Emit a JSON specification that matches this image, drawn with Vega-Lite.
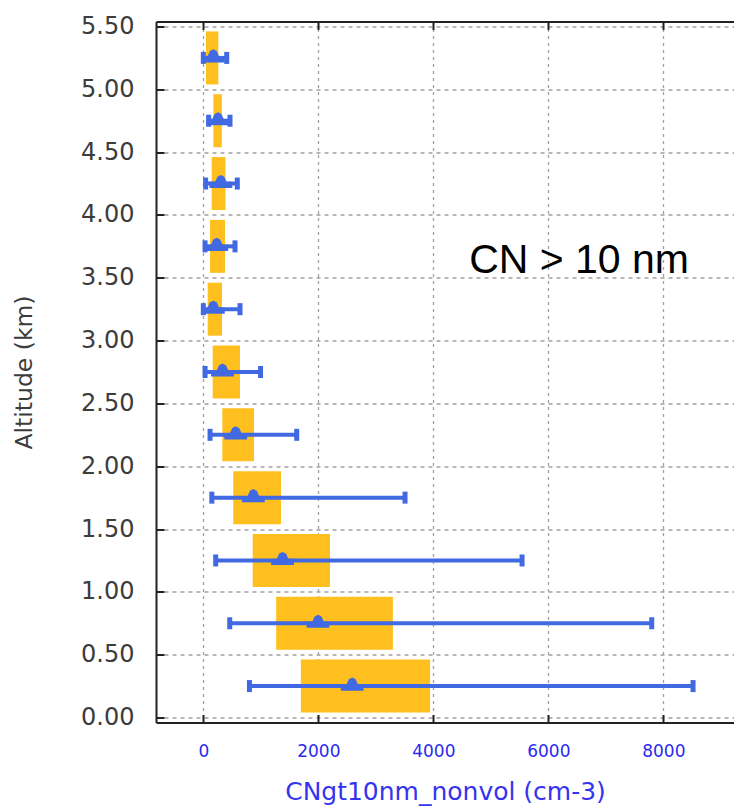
{
  "$schema": "https://vega.github.io/schema/vega-lite/v6.json",
  "width": 578,
  "height": 701,
  "autosize": {"type": "none"},
  "padding": {"left": 156, "top": 21.5, "right": 0, "bottom": 84.3},
  "background": "white",
  "config": {
    "view": {"stroke": null},
    "axis": {
      "domainColor": "#222222",
      "domainWidth": 2,
      "tickColor": "#222222",
      "tickWidth": 2,
      "tickSize": -8,
      "gridColor": "#a0a0a0",
      "gridWidth": 1.3,
      "labelFont": "DejaVu Sans",
      "titleFont": "DejaVu Sans",
      "titleFontWeight": "normal"
    }
  },
  "datasets": {
    "profile": [
      {"alt": 0.25, "p25": 1696, "p75": 3944, "mid": 2590, "lo": 802, "hi": 8517},
      {"alt": 0.75, "p25": 1267, "p75": 3297, "mid": 1995, "lo": 459, "hi": 7798},
      {"alt": 1.25, "p25": 859, "p75": 2203, "mid": 1378, "lo": 215, "hi": 5543},
      {"alt": 1.75, "p25": 520, "p75": 1351, "mid": 870, "lo": 148, "hi": 3508},
      {"alt": 2.25, "p25": 330, "p75": 882, "mid": 563, "lo": 117, "hi": 1624},
      {"alt": 2.75, "p25": 163, "p75": 638, "mid": 333, "lo": 30, "hi": 995},
      {"alt": 3.25, "p25": 76, "p75": 325, "mid": 174, "lo": 0, "hi": 638},
      {"alt": 3.75, "p25": 117, "p75": 377, "mid": 233, "lo": 30, "hi": 551},
      {"alt": 4.25, "p25": 146, "p75": 385, "mid": 305, "lo": 40, "hi": 591},
      {"alt": 4.75, "p25": 174, "p75": 322, "mid": 255, "lo": 93, "hi": 464},
      {"alt": 5.25, "p25": 47, "p75": 261, "mid": 174, "lo": 0, "hi": 407}
    ],
    "note": [
      {"x": 6534, "y": 3.63, "text": "CN > 10 nm"}
    ]
  },
  "layer": [
    {
      "data": {"name": "profile"},
      "mark": {"type": "bar", "size": 53, "color": "#FFBF1F"},
      "encoding": {
        "y": {
          "field": "alt",
          "type": "quantitative",
          "scale": {"domain": [0, 5.5], "nice": false, "zero": false},
          "axis": {"orient": "left", "title": "Altitude (km)", "values": [0, 0.5, 1, 1.5, 2, 2.5, 3, 3.5, 4, 4.5, 5, 5.5], "format": ".2f", "labelFontSize": 24, "labelColor": "#3c3c3c", "labelPadding": 30, "grid": true, "gridDash": [4, 4], "titleFontSize": 23.5, "titleColor": "#3c3c3c", "titlePadding": 44}
        },
        "x": {
          "field": "p25",
          "type": "quantitative",
          "scale": {"domain": [-823, 9229], "nice": false, "zero": false},
          "axis": {
            "orient": "bottom",
            "values": [0, 2000, 4000, 6000, 8000],
            "format": "d",
            "labelFontSize": 17,
            "labelColor": "#2a2aee",
            "labelPadding": 29,
            "grid": true,
            "gridDash": [3, 4],
            "title": "CNgt10nm_nonvol (cm-3)",
            "titleFontSize": 25,
            "titleColor": "#3434ee",
            "titlePadding": 20
          }
        },
        "x2": {"field": "p75"}
      }
    },
    {
      "data": {"name": "profile"},
      "mark": {"type": "rule", "color": "#4169E1", "strokeWidth": 4},
      "encoding": {
        "y": {"field": "alt", "type": "quantitative", "axis": {"orient": "left", "title": "Altitude (km)", "values": [0, 0.5, 1, 1.5, 2, 2.5, 3, 3.5, 4, 4.5, 5, 5.5], "format": ".2f", "labelFontSize": 24, "labelColor": "#3c3c3c", "labelPadding": 30, "grid": true, "gridDash": [4, 4], "titleFontSize": 23.5, "titleColor": "#3c3c3c", "titlePadding": 44}},
        "x": {
          "field": "lo",
          "type": "quantitative",
          "axis": {
            "orient": "top",
            "values": [0, 2000, 4000, 6000, 8000],
            "labels": false,
            "grid": false,
            "title": null
          }
        },
        "x2": {"field": "hi"}
      }
    },
    {
      "data": {"name": "profile"},
      "mark": {"type": "tick", "orient": "vertical", "color": "#4169E1", "opacity": 1, "thickness": 5, "size": 12},
      "encoding": {
        "y": {"field": "alt", "type": "quantitative", "axis": {"orient": "left", "title": "Altitude (km)", "values": [0, 0.5, 1, 1.5, 2, 2.5, 3, 3.5, 4, 4.5, 5, 5.5], "format": ".2f", "labelFontSize": 24, "labelColor": "#3c3c3c", "labelPadding": 30, "grid": true, "gridDash": [4, 4], "titleFontSize": 23.5, "titleColor": "#3c3c3c", "titlePadding": 44}},
        "x": {"field": "lo", "type": "quantitative", "axis": null}
      }
    },
    {
      "data": {"name": "profile"},
      "mark": {"type": "tick", "orient": "vertical", "color": "#4169E1", "opacity": 1, "thickness": 5, "size": 12},
      "encoding": {
        "y": {"field": "alt", "type": "quantitative", "axis": {"orient": "left", "title": "Altitude (km)", "values": [0, 0.5, 1, 1.5, 2, 2.5, 3, 3.5, 4, 4.5, 5, 5.5], "format": ".2f", "labelFontSize": 24, "labelColor": "#3c3c3c", "labelPadding": 30, "grid": true, "gridDash": [4, 4], "titleFontSize": 23.5, "titleColor": "#3c3c3c", "titlePadding": 44}},
        "x": {"field": "hi", "type": "quantitative", "axis": null}
      }
    },
    {
      "data": {"name": "profile"},
      "mark": {
        "type": "point",
        "filled": true,
        "opacity": 1,
        "color": "#4169E1",
        "size": 520,
        "shape": "M -1 0.4 L -1 -0.15 L -0.5 -0.15 L -0.3 -0.6 L 0 -0.75 L 0.3 -0.6 L 0.5 -0.15 L 1 -0.15 L 1 0.4 Z"
      },
      "encoding": {
        "y": {"field": "alt", "type": "quantitative", "axis": {"orient": "left", "title": "Altitude (km)", "values": [0, 0.5, 1, 1.5, 2, 2.5, 3, 3.5, 4, 4.5, 5, 5.5], "format": ".2f", "labelFontSize": 24, "labelColor": "#3c3c3c", "labelPadding": 30, "grid": true, "gridDash": [4, 4], "titleFontSize": 23.5, "titleColor": "#3c3c3c", "titlePadding": 44}},
        "x": {"field": "mid", "type": "quantitative", "axis": null}
      }
    },
    {
      "data": {"name": "note"},
      "mark": {"type": "text", "font": "Liberation Sans", "fontSize": 41, "color": "#000000", "align": "center", "baseline": "middle"},
      "encoding": {
        "x": {"field": "x", "type": "quantitative", "axis": null},
        "y": {"field": "y", "type": "quantitative", "axis": {"orient": "left", "title": "Altitude (km)", "values": [0, 0.5, 1, 1.5, 2, 2.5, 3, 3.5, 4, 4.5, 5, 5.5], "format": ".2f", "labelFontSize": 24, "labelColor": "#3c3c3c", "labelPadding": 30, "grid": true, "gridDash": [4, 4], "titleFontSize": 23.5, "titleColor": "#3c3c3c", "titlePadding": 44}},
        "text": {"field": "text"}
      }
    }
  ],
  "resolve": {"axis": {"x": "independent"}}
}
